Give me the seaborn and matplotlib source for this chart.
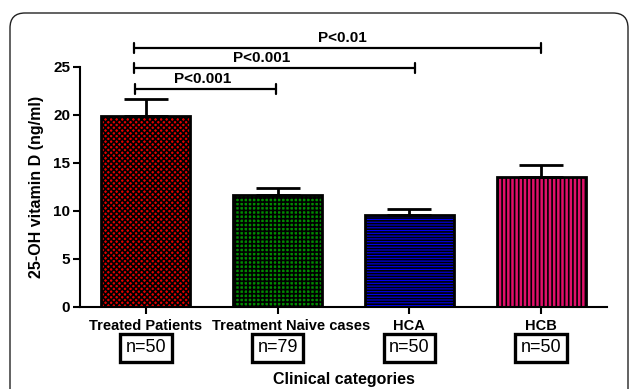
import matplotlib
matplotlib.use("Agg")
import matplotlib.pyplot as plt
import matplotlib.transforms as mtransforms
from matplotlib.patches import FancyBboxPatch
import seaborn as sns
import pandas as pd

categories = ["Treated Patients", "Treatment Naive cases", "HCA", "HCB"]
means = [19.9, 11.6, 9.6, 13.5]
sem_upper = [1.8, 0.8, 0.6, 1.3]
n_labels = ["n=50", "n=79", "n=50", "n=50"]
bar_colors = ["#e00000", "#008a00", "#0000ee", "#e0106a"]
hatches = ["xxxxxx", "++++", "------", "||||"]
hatch_colors = ["#7a0000", "black", "black", "black"]
brackets = [  # (x_start, x_end, y, label, label_x)
    (-0.08, 0.99, 22.7, "P<0.001", 0.43),
    (-0.09, 2.04, 24.9, "P<0.001", 0.88),
    (-0.09, 3.00, 27.0, "P<0.01", 1.49),
]

sns.set_style("ticks")
plt.rcParams["font.family"] = ["Liberation Sans", "DejaVu Sans"]
plt.rcParams["hatch.linewidth"] = 1.2
plt.rcParams["text.color"] = "black"
plt.rcParams["axes.labelcolor"] = "black"
plt.rcParams["xtick.color"] = "black"
plt.rcParams["ytick.color"] = "black"
plt.rcParams["axes.edgecolor"] = "black"

fig = plt.figure(figsize=(6.29, 3.89), dpi=100)
ax = fig.add_axes([80 / 629, 1 - 306.7 / 389, (607 - 80) / 629, (306.7 - 67) / 389])

df = pd.DataFrame({"cat": categories, "val": means})
sns.barplot(data=df, x="cat", y="val", hue="cat", palette=bar_colors, order=categories,
            errorbar=None, width=0.675, legend=False, ax=ax, saturation=1)

for patch, h, hc in zip(ax.patches, hatches, hatch_colors):
    patch.set_hatch(h)
    try:
        patch.set_hatchcolor(hc)
    except Exception:
        patch._hatch_color = matplotlib.colors.to_rgba(hc)
    patch.set_edgecolor("black")
    patch.set_linewidth(2.0)

ax.errorbar(range(len(categories)), means, yerr=[[0] * 4, sem_upper], fmt="none",
            ecolor="black", elinewidth=2.0, capsize=16, capthick=2.0, zorder=1)

ax.set_ylim(0, 25)
ax.set_xlim(-0.5, 3.5)
ax.set_yticks([0, 5, 10, 15, 20, 25])
ax.tick_params(axis="both", width=1.5, length=5)
ax.tick_params(axis="y", labelsize=11, pad=2)
ax.tick_params(axis="x", labelsize=10.5, pad=4)
for lab in ax.get_xticklabels() + ax.get_yticklabels():
    lab.set_fontweight("bold")
# the second category label sits slightly to the right of its tick
xlabs = ax.get_xticklabels()
xlabs[1].set_transform(xlabs[1].get_transform()
                       + mtransforms.ScaledTranslation(13 / 100, 0, fig.dpi_scale_trans))
for s in ["top", "right"]:
    ax.spines[s].set_visible(False)
for s in ["left", "bottom"]:
    ax.spines[s].set_linewidth(1.5)

ax.set_ylabel("25-OH vitamin D (ng/ml)", fontsize=11.5, fontweight="bold", labelpad=7)
ax.set_xlabel("Clinical categories", fontsize=11.5, fontweight="bold", labelpad=28)

# significance brackets
for x1, x2, y, lab, lx in brackets:
    ax.plot([x1, x2], [y, y], color="black", lw=1.6, clip_on=False)
    for xx in (x1, x2):
        ax.plot([xx, xx], [y - 0.5, y + 0.5], color="black", lw=1.6, clip_on=False)
    ax.text(lx, y + 0.3, lab, ha="center", va="bottom", fontsize=11,
            fontweight="bold", clip_on=False)

# n= boxes
trans = mtransforms.blended_transform_factory(ax.transData, ax.transAxes)
for i, lab in enumerate(n_labels):
    ax.text(i, -0.172, lab, transform=trans, ha="center", va="center", fontsize=13,
            bbox=dict(boxstyle="square,pad=0.3", fc="white", ec="black", lw=2.4))

# rounded frame
frame = FancyBboxPatch((10, -30), 618, 389 - 13 + 30,
                       boxstyle="round,pad=0,rounding_size=15",
                       transform=mtransforms.IdentityTransform(),
                       fc="none", ec="#222222", lw=1.0)
fig.patches.append(frame)

fig.savefig("out.png", dpi=100)
